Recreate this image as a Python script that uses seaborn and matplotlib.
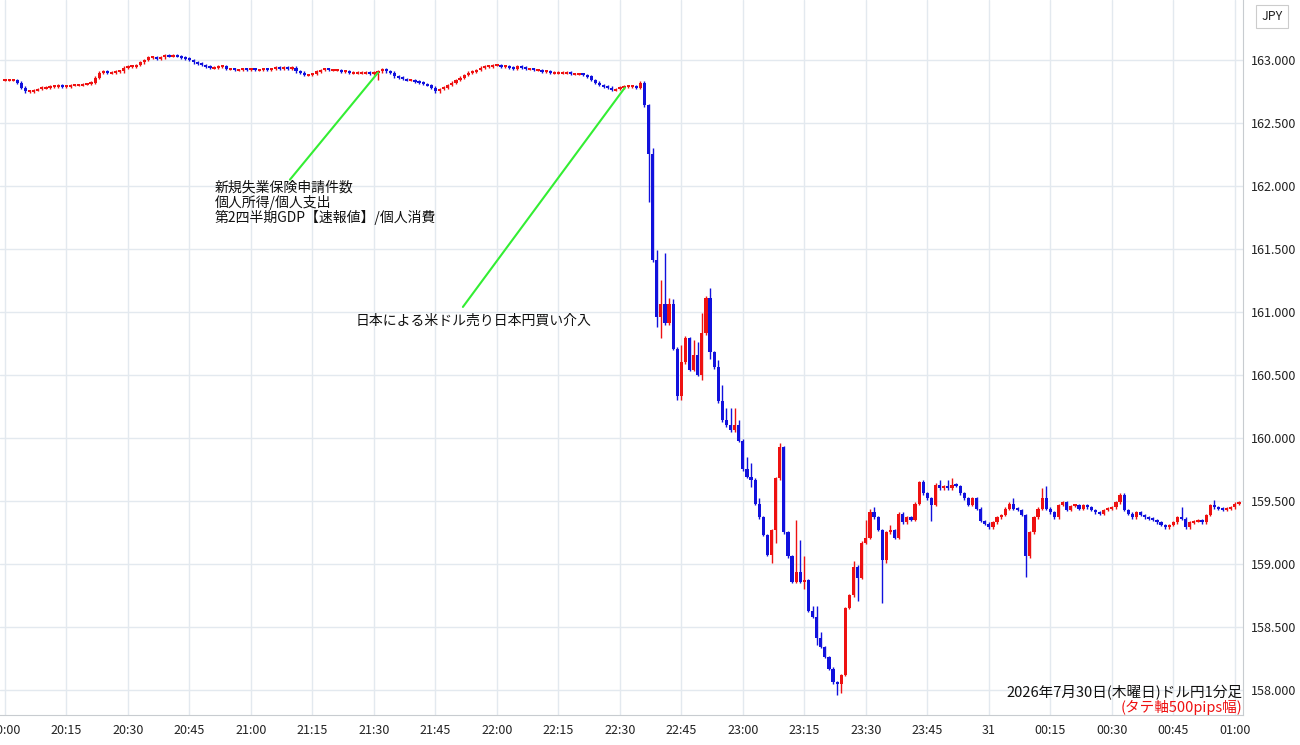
import matplotlib
matplotlib.use("Agg")
import matplotlib.pyplot as plt
import seaborn as sns
import numpy as np

# ---- data: USD/JPY 1-minute closes from 20:00 (minute index 0) ----
closes = [
 162.84,162.84,162.84,162.82,162.78,162.75,162.75,162.76,162.77,162.78,
 162.78,162.79,162.79,162.80,162.79,162.79,162.80,162.80,162.80,162.81,
 162.81,162.82,162.86,162.90,162.91,162.90,162.90,162.91,162.91,162.94,
 162.95,162.95,162.96,162.98,163.00,163.02,163.02,163.01,163.02,163.04,
 163.03,163.04,163.03,163.02,163.01,163.00,162.98,162.97,162.96,162.95,
 162.94,162.94,162.95,162.95,162.93,162.93,162.92,162.92,162.93,162.92,
 162.93,162.92,162.92,162.93,162.92,162.93,162.94,162.93,162.94,162.93,
 162.94,162.91,162.90,162.88,162.88,162.89,162.91,162.92,162.93,162.92,
 162.92,162.92,162.91,162.91,162.90,162.90,162.90,162.90,162.90,162.89,
 162.90,162.91,162.93,162.91,162.90,162.87,162.86,162.85,162.84,162.84,
 162.83,162.82,162.81,162.80,162.78,162.75,162.77,162.78,162.80,162.82,
 162.84,162.86,162.88,162.90,162.91,162.92,162.94,162.95,162.95,162.96,
 162.96,162.95,162.95,162.94,162.93,162.95,162.94,162.93,162.93,162.92,
 162.92,162.91,162.91,162.90,162.90,162.90,162.90,162.90,162.89,162.89,
 162.89,162.88,162.87,162.84,162.82,162.80,162.79,162.78,162.76,162.77,
 162.78,162.79,162.79,162.79,162.78,162.82,
 # 156 -
 162.64,162.25,161.41,160.96,161.06,160.91,161.06,160.71,160.33,160.60,
 160.79,160.54,160.66,160.50,160.83,161.11,160.68,160.56,160.29,160.14,
 160.10,160.06,160.10,159.98,159.75,159.69,159.67,159.48,159.37,159.23,
 159.07,159.27,159.68,159.93,159.25,159.06,158.86,158.94,158.86,158.87,
 158.63,158.58,158.41,158.34,158.26,158.17,158.06,158.05,158.12,158.65,
 158.75,158.98,158.89,159.17,159.21,159.41,159.37,159.27,159.03,159.25,
 159.27,159.21,159.40,
 # 219 -
 159.33,159.37,159.35,159.48,159.65,159.56,159.52,159.47,159.63,159.60,
 159.62,159.60,159.63,159.62,159.56,159.52,159.47,159.52,159.44,159.34,
 159.32,159.29,159.33,159.37,159.39,159.44,159.48,159.44,159.43,159.39,
 159.06,159.25,159.37,159.44,159.52,159.44,159.41,159.37,159.47,159.49,
 159.43,159.46,159.47,159.44,159.47,159.45,159.43,159.41,159.40,159.43,
 159.44,159.45,159.49,159.55,159.43,159.40,159.37,159.41,159.39,159.37,
 159.36,159.35,159.33,159.31,159.29,159.31,159.33,159.37,159.36,159.29,
 159.33,159.34,159.35,159.33,159.39,159.47,159.45,159.44,159.43,159.44,
 159.45,159.48,159.49,
]
first_open = 162.84
# explicit wick extremes (minute: value)
highs = {156:162.83,158:162.30,159:161.49,160:161.25,161:161.47,162:161.11,163:161.10,
         165:160.74,166:160.81,168:160.78,169:160.76,170:160.99,171:161.13,172:161.19,
         174:160.62,175:160.42,176:160.24,177:160.24,178:160.24,179:160.14,181:159.85,
         182:159.80,184:159.52,187:159.27,189:159.96,191:159.23,193:159.35,194:159.19,
         195:159.06,197:158.67,198:158.67,199:158.46,207:159.02,210:159.35,211:159.44,
         212:159.45,216:159.31,224:159.67,228:159.67,230:159.67,231:159.68,246:159.52,
         253:159.60,254:159.62,287:159.45,295:159.51}
lows = {91:162.84,157:161.87,159:160.88,160:160.79,164:160.30,165:160.30,170:160.46,
        172:160.63,182:159.61,187:159.01,188:159.17,195:158.80,198:158.36,203:157.96,
        204:157.98,206:158.67,208:158.71,214:158.69,215:159.01,226:159.34,249:158.90}
tick_labels = ["20:00","20:15","20:30","20:45","21:00","21:15","21:30","21:45","22:00",
               "22:15","22:30","22:45","23:00","23:15","23:30","23:45","31","00:15",
               "00:30","00:45","01:00"]
y_ticks = [158.0,158.5,159.0,159.5,160.0,160.5,161.0,161.5,162.0,162.5,163.0]

sns.set_theme(style="white")
plt.rcParams['font.family'] = ['Noto Sans CJK JP', 'DejaVu Sans']

n = len(closes)
c = np.array(closes)
o = np.concatenate([[first_open], c[:-1]])
hi = np.maximum(o, c) + 0.01
lo = np.minimum(o, c) - 0.01
for k, v in highs.items():
    if k < n: hi[k] = max(hi[k], v)
for k, v in lows.items():
    if k < n: lo[k] = min(lo[k], v)
x = np.arange(n)
up = c >= o
cols = np.where(up, "#ee1111", "#1111dd")

fig = plt.figure(figsize=(13, 7.45), dpi=100)
ax = fig.add_axes([0.0, 0.04, 0.956, 0.96])
ax.vlines(x, lo, hi, colors=cols, linewidth=1.0, zorder=3)
body_h = np.maximum(np.abs(c - o), 0.016)
body_b = np.where(np.abs(c - o) < 0.016, (o + c) / 2 - 0.008, np.minimum(o, c))
ax.bar(x, body_h, bottom=body_b, width=0.78, color=cols, linewidth=0, zorder=4)

ax.set_xlim(-1.22, 301.95)
ax.set_ylim(157.80, 163.476)
ax.set_xticks(np.arange(0, 301, 15))
ax.set_xticklabels(tick_labels, fontsize=9, color="#222222")
ax.yaxis.tick_right()
ax.set_yticks(y_ticks)
ax.set_yticklabels([f"{v:.3f}" for v in y_ticks], fontsize=9, color="#222222")
ax.tick_params(axis='both', length=0, pad=6)
ax.grid(True, color="#e3e9ef", linewidth=1)
for s in ["top", "left"]:
    ax.spines[s].set_visible(False)
for s in ["right", "bottom"]:
    ax.spines[s].set_color("#c8ccd0")
    ax.spines[s].set_linewidth(0.8)

# annotations
ax.plot([91, 69.5], [162.90, 162.05], color="#33ee33", linewidth=1.5, zorder=5)
ax.plot([151.2, 111.7], [162.78, 161.04], color="#33ee33", linewidth=1.5, zorder=5)
ax.text(51.2, 162.04, "新規失業保険申請件数\n個人所得/個人支出\n第2四半期GDP【速報値】/個人消費",
        fontsize=10, va="top", ha="left", linespacing=1.0, color="#111111")
ax.text(85.4, 160.99, "日本による米ドル売り日本円買い介入", fontsize=10, va="top", ha="left", color="#111111")
ax.text(0.9995, 0.031, "2026年7月30日(木曜日)ドル円1分足", transform=ax.transAxes,
        fontsize=10.5, ha="right", va="center", color="#111111")
ax.text(0.9995, 0.011, "(タテ軸500pips幅)", transform=ax.transAxes,
        fontsize=10.5, ha="right", va="center", color="#ee1111")
fig.text(0.9785, 0.978, "JPY", fontsize=9, ha="center", va="center", color="#222222",
         bbox=dict(boxstyle="square,pad=0.4", fc="white", ec="#cccccc", lw=0.8))

fig.savefig("out.png", dpi=100)
